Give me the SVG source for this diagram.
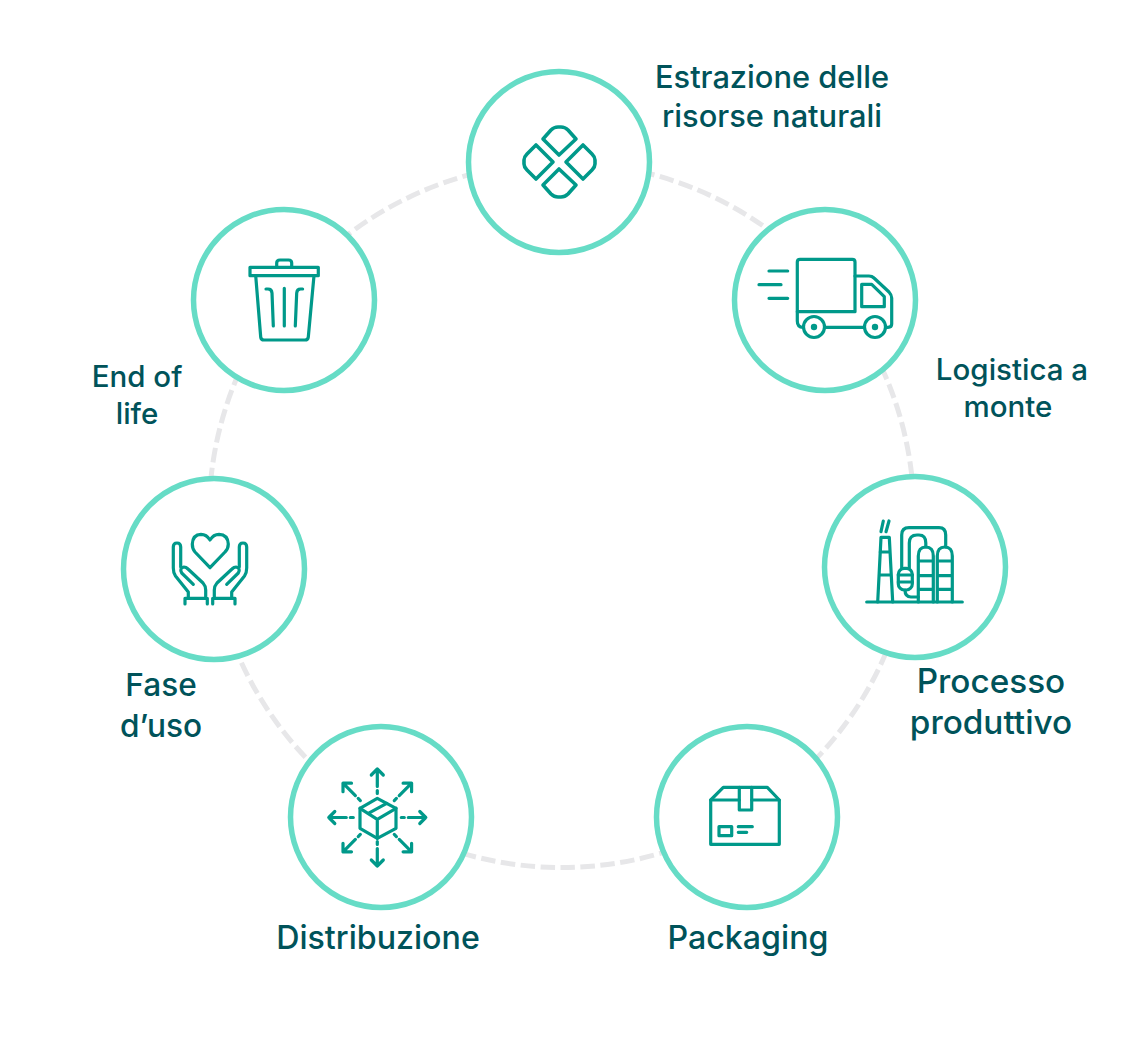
<svg xmlns="http://www.w3.org/2000/svg" xmlns:xlink="http://www.w3.org/1999/xlink" width="1141" height="1040" viewBox="0 0 1141 1040">
<style>
.ring{fill:#fff;stroke:#66dcc6;stroke-width:5.500}
.ic{fill:none;stroke:#00998a;stroke-width:3.200;stroke-linecap:round;stroke-linejoin:round}
.lb{font-family:Inter,"Noto Sans",sans-serif;font-weight:500;font-size:29.500px;fill:#00535a;text-anchor:middle}
.l31{font-size:30.800px}
.l32{font-size:32.200px}
.l33{font-size:33.300px}
.l315{font-size:31.600px}
</style>
<defs>
<g id="arr" class="ic"><path d="M0-24V-27M0-31V-48.500M-6-42.500L0-48.500L6-42.500"/></g>
</defs>
<rect width="1141" height="1040" fill="#fff"/>
<g id="connectors"><circle cx="561.500" cy="515" r="352.500" fill="none" stroke="#e7e7e9" stroke-width="5" stroke-dasharray="14.500 5.500"/></g>

<g id="estrazione"><circle class="ring" cx="559" cy="162" r="90.500"/>
<g class="ic" style="stroke-width:3.600">
<path d="M559 155L543 139L551 130Q554 127 558 127H561Q565 127 568 130L576 139Z"/>
<path d="M559 169L543 185L551 194Q554 197 558 197H561Q565 197 568 194L576 185Z"/>
<path d="M553 162L536 145L527 154Q524 157 524 160V164Q524 167 527 170L536 179Z"/>
<path d="M566 162L583 145L592 154Q595 157 595 160V164Q595 167 592 170L583 179Z"/>
</g>
<text class="lb l31"><tspan x="772" y="88">Estrazione delle</tspan><tspan x="772" y="127">risorse naturali</tspan></text></g>

<g id="logistica"><circle class="ring" cx="825" cy="300" r="90.500"/>
<g class="ic">
<path d="M797.300 311.700V262Q797.300 259.300 800 259.300H852.300Q855 259.300 855 262V311.700Z"/>
<path d="M855 276H869Q872 276 874 278L889 292Q891.700 295 891.700 298V324Q891.700 327.300 888 327.300H886M864 327.300H825M803 327.300Q797.300 327.300 797.300 321V311.700"/>
<path d="M861.700 284.300H871.700L884.300 296.700V306.700H861.700Z"/>
<path d="M769 271H787.700M759 284.700H781M769 298.300H787.700"/>
<circle cx="814" cy="327" r="10.500"/><circle cx="875" cy="327" r="10.500"/>
</g>
<circle cx="814" cy="327" r="3.200" fill="#00998a"/><circle cx="875" cy="327" r="3.200" fill="#00998a"/>
<text class="lb"><tspan x="1012" y="380">Logistica a</tspan><tspan x="1008" y="417">monte</tspan></text></g>

<g id="processo"><circle class="ring" cx="915" cy="567" r="90.500"/>
<g class="ic">
<path d="M866.700 602H962.300"/>
<path d="M877.700 602L881 537.300H889.300L892.700 602M880 552H890M879 575H891"/>
<path d="M881 531.700L883.300 521M886 531.700L889 521"/>
<path d="M918.300 602V556Q918.300 547 925.800 547Q933.300 547 933.300 556V602M918.300 561H933.300M918.300 575.700H933.300M918.300 589.300H933.300"/>
<path d="M937.300 602V556Q937.300 547 944.800 547Q952.300 547 952.300 556V602M937.300 561H952.300M937.300 575.700H952.300M937.300 589.300H952.300"/>
<path d="M901.700 568V535Q901.700 527.700 909 527.700H939Q945.700 527.700 945.700 535V547"/>
<path d="M909.300 568V543Q909.300 535 917 535H919Q925.800 535 925.800 543V547"/>
<rect x="898.300" y="568.300" width="14" height="21.700" rx="6"/>
<path d="M898.300 575H912.300M898.300 582H912.300M905 590Q905 597 911 597H918.300"/>
</g>
<text class="lb l33"><tspan x="991" y="693">Processo</tspan><tspan x="991" y="734">produttivo</tspan></text></g>

<g id="packaging"><circle class="ring" cx="747" cy="817" r="90.500"/>
<g class="ic">
<path d="M710.700 800V844.300H779.300V800L767.300 787.300H723.300Z"/>
<path d="M710.700 800H739.300M751.700 800H779.300"/>
<path d="M739.300 787.300V810H751.700V787.300"/>
<rect x="719" y="826.700" width="12.700" height="9"/>
<path d="M738.300 826.700H752.300M738.300 832.300H746.700"/>
</g>
<text class="lb l32" x="748" y="949">Packaging</text></g>

<g id="distribuzione"><circle class="ring" cx="381" cy="817" r="90.500"/>
<g class="ic">
<path d="M377.300 798.300L396 808.300V828.300L377.300 838.300L360 828.300V808.300Z"/>
<path d="M360 808.300L377.300 819.300L396 808.300M377.300 819.300V838.300M368.300 813.300L386.700 803.300"/>
</g>
<g transform="translate(377.300 817.500)">
<use xlink:href="#arr"/><use xlink:href="#arr" transform="rotate(45)"/><use xlink:href="#arr" transform="rotate(90)"/><use xlink:href="#arr" transform="rotate(135)"/><use xlink:href="#arr" transform="rotate(180)"/><use xlink:href="#arr" transform="rotate(225)"/><use xlink:href="#arr" transform="rotate(270)"/><use xlink:href="#arr" transform="rotate(315)"/>
</g>
<text class="lb l32" x="378" y="949">Distribuzione</text></g>

<g id="fase-uso"><circle class="ring" cx="214" cy="569" r="90.500"/>
<g class="ic">
<path d="M210 567.700L195 552Q192.300 549 192.300 544Q192.800 534.500 201 534.300Q206.500 534.300 210 540Q213.500 534.300 219 534.300Q227.800 534.500 228.300 544Q228.300 549 225 552Z"/>
<path d="M188.300 597V592L175.500 576Q173.300 573 173.300 568V547Q173.300 543 177 543Q180.700 543 180.700 547V567M193.300 584.300L181.700 573Q179 568 184 567Q186 567 188 569L203 583Q205.700 586 205.700 590V598M185 604V598.300H207.300V604"/>
<path d="M231.700 597V592L244.500 576Q246.700 573 246.700 568V547Q246.700 543 243 543Q239.300 543 239.300 547V567M226.700 584.300L238.300 573Q241 568 236 567Q234 567 232 569L217 583Q214.300 586 214.300 590V598M235 604V598.300H212.700V604"/>
</g>
<text class="lb l315"><tspan x="161" y="696">Fase</tspan><tspan x="161" y="737">d’uso</tspan></text></g>

<g id="end-of-life"><circle class="ring" cx="284" cy="300" r="90.500"/>
<g class="ic">
<rect x="250" y="267.300" width="68.300" height="8.400"/>
<path d="M276.700 267.300V263Q276.700 260 280 260H288.500Q291.700 260 291.700 263V267.300"/>
<path d="M255.700 275.700L260.700 337Q261 340 264 340H305Q308 340 308.300 337L314 275.700"/>
<path d="M284.300 288.300V326M266 289H268Q271.700 289 272 293L273.300 326M302.600 289H300.600Q297 289 296.700 293L295.300 326"/>
</g>
<text class="lb"><tspan x="137" y="387">End of</tspan><tspan x="137" y="424">life</tspan></text></g>
</svg>
